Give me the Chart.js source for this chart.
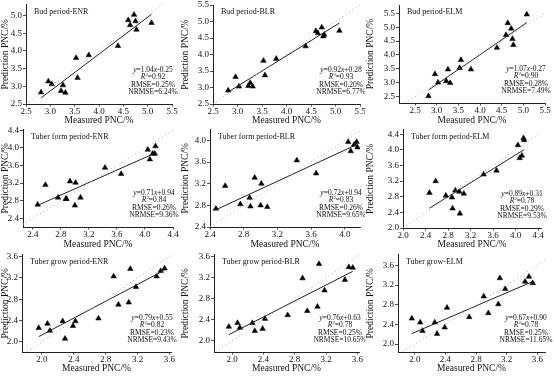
<!DOCTYPE html>
<html>
<head>
<meta charset="utf-8">
<script src="https://cdn.jsdelivr.net/npm/chart.js@4.4.1/dist/chart.umd.min.js"></script>
<style>
  body { margin: 0; background: #fff; }
  #wrap { position: relative; width: 554px; height: 376px; overflow: hidden; }
  #wrap canvas { position: absolute; }
</style>
</head>
<body>
<div id="wrap"></div>
<script>
// measured PNC (%) per growth stage
const budMeasured  = [2.81, 2.96, 3.03, 3.22, 3.26, 3.31, 3.53, 3.56, 3.79, 4.39, 4.60, 4.64, 4.72, 4.75, 4.77, 5.08];
const formMeasured = [2.47, 2.58, 2.76, 2.87, 2.88, 2.93, 3.00, 3.01, 3.08, 3.43, 3.66, 4.04, 4.07, 4.11, 4.14, 4.15];
const growMeasured = [1.96, 2.07, 2.10, 2.26, 2.29, 2.39, 2.42, 2.71, 2.90, 2.96, 3.09, 3.11, 3.18, 3.44, 3.49, 3.54];

// predicted PNC (%) per model
const budENR  = [2.83, 3.14, 3.06, 2.87, 3.03, 2.82, 3.80, 3.24, 3.88, 4.14, 4.87, 4.73, 5.02, 4.84, 4.60, 4.79];
const budBLR  = [2.91, 3.32, 3.03, 3.05, 3.14, 3.03, 3.81, 3.37, 3.87, 4.25, 4.71, 4.65, 4.82, 4.55, 4.60, 4.72];
const budELM  = [2.52, 3.31, 3.01, 3.06, 3.48, 2.99, 3.53, 3.82, 3.48, 4.26, 4.72, 5.15, 4.95, 4.58, 4.36, 5.46];
const formENR = [2.71, 3.16, 2.87, 2.84, 2.84, 3.24, 2.69, 3.21, 2.87, 3.55, 3.41, 3.96, 3.74, 3.87, 3.87, 4.04];
const formBLR = [2.74, 3.16, 2.82, 2.94, 2.78, 3.31, 2.80, 3.20, 2.77, 3.63, 3.39, 3.97, 3.80, 3.92, 3.97, 3.87];
const formELM = [2.90, 3.20, 2.83, 2.78, 2.50, 2.96, 2.93, 2.37, 2.88, 3.37, 3.47, 4.12, 3.79, 3.85, 4.30, 4.25];
const growENR = [2.26, 2.34, 2.21, 2.39, 2.06, 2.30, 2.39, 2.44, 3.23, 2.70, 2.74, 3.37, 3.03, 3.23, 3.33, 3.38];
const growBLR = [2.27, 2.34, 2.25, 2.34, 2.19, 2.23, 2.42, 2.49, 3.19, 2.57, 2.65, 3.46, 2.96, 3.16, 3.40, 3.39];
const growELM = [2.52, 2.44, 2.27, 2.44, 2.21, 2.34, 2.74, 2.55, 2.97, 2.63, 2.81, 3.34, 3.12, 3.27, 3.37, 3.24];

const panelTitles = ['Bud period-ENR', 'Bud period-BLR', 'Bud period-ELM',
  'Tuber form period-ENR', 'Tuber form period-BLR', 'Tuber form period-ELM',
  'Tuber grow period-ENR', 'Tuber grow period-BLR', 'Tuber grow-ELM'];
const slopes     = [1.04, 0.92, 1.07, 0.71, 0.72, 0.89, 0.79, 0.76, 0.67];
const intercepts = [-0.25, 0.28, -0.27, 0.94, 0.94, 0.31, 0.55, 0.63, 0.90];
const r2Labels    = ['0.92', '0.93', '0.90', '0.84', '0.83', '0.78', '0.82', '0.78', '0.78'];
const rmseLabels  = ['0.25%', '0.20%', '0.28%', '0.26%', '0.26%', '0.29%', '0.23%', '0.25%', '0.25%'];
const nrmseLabels = ['6.24%', '6.77%', '7.49%', '9.36%', '9.65%', '9.53%', '9.43%', '10.65%', '11.65%'];

const xSets = [budMeasured, budMeasured, budMeasured, formMeasured, formMeasured, formMeasured, growMeasured, growMeasured, growMeasured];
const ySets = [budENR, budBLR, budELM, formENR, formBLR, formELM, growENR, growBLR, growELM];

// placement of each panel and its axis ranges
const panels = [
  {x:0,   y:0,   w:180, h:128, L:26, R:8,  T:4, B:24, xr:[2.5, 5.5, 0.5],  yr:[2.5, 5.31, 0.5]},
  {x:180, y:0,   w:185, h:128, L:33, R:5,  T:5, B:24, xr:[2.5, 5.5, 0.5],  yr:[2.5, 5.5, 0.5]},
  {x:365, y:0,   w:189, h:128, L:34, R:9,  T:5, B:25, xr:[2.13, 5.5, 0.5], yr:[2.27, 5.8, 0.5]},
  {x:0,   y:125, w:180, h:127, L:23, R:7,  T:3, B:25, xr:[2.26, 4.4, 0.4], yr:[2.2, 4.42, 0.4]},
  {x:180, y:125, w:185, h:127, L:30, R:5,  T:3, B:25, xr:[2.4, 4.18, 0.4], yr:[2.4, 4.2, 0.4]},
  {x:365, y:125, w:189, h:127, L:38, R:13, T:3, B:24, xr:[2.0, 4.45, 0.4], yr:[2.0, 4.52, 0.4]},
  {x:0,   y:250, w:180, h:126, L:22, R:9,  T:3, B:24, xr:[1.75, 3.62, 0.4], yr:[1.81, 3.64, 0.4]},
  {x:180, y:250, w:185, h:126, L:34, R:6,  T:3, B:24, xr:[1.77, 3.62, 0.4], yr:[1.79, 3.64, 0.4]},
  {x:365, y:250, w:189, h:126, L:33, R:9,  T:3, B:24, xr:[1.78, 3.7, 0.4],  yr:[1.84, 3.82, 0.4]}
];

const FONT = "'Liberation Serif', 'Times New Roman', serif";

function drawRich(ctx, segs, cx, cy, size) {
  let total = 0;
  segs.forEach(s => {
    ctx.font = (s.it ? 'italic ' : '') + (s.sup ? size * 0.65 : size) + 'px ' + FONT;
    s.w = ctx.measureText(s.t).width;
    total += s.w;
  });
  let x = cx - total / 2;
  segs.forEach(s => {
    ctx.font = (s.it ? 'italic ' : '') + (s.sup ? size * 0.65 : size) + 'px ' + FONT;
    ctx.fillText(s.t, x, s.sup ? cy - size * 0.3 : cy);
    x += s.w;
  });
}

function textPlugin(i) {
  return {
    id: 'panelText' + i,
    afterDraw(chart) {
      const ctx = chart.ctx, ca = chart.chartArea;
      ctx.save();
      ctx.fillStyle = '#111';
      ctx.textBaseline = 'middle';
      ctx.textAlign = 'left';
      ctx.font = '8px ' + FONT;
      ctx.fillText(panelTitles[i], ca.left + 8, ca.top + 7);

      const a = slopes[i], b = intercepts[i];
      const lines = [
        [{t:'y', it:true}, {t:'=' + a.toFixed(2)}, {t:'x', it:true}, {t:(b < 0 ? '-' : '+') + Math.abs(b).toFixed(2)}],
        [{t:'R', it:true}, {t:'2', sup:true}, {t:'=' + r2Labels[i]}],
        [{t:'RMSE=' + rmseLabels[i]}],
        [{t:'NRMSE=' + nrmseLabels[i]}]
      ];
      const cx = ca.right - 19;
      lines.forEach((segs, k) => {
        drawRich(ctx, segs, cx, ca.bottom - 12 - (3 - k) * 7.4, 7.5);
      });
      ctx.restore();
    }
  };
}

const wrap = document.getElementById('wrap');

panels.forEach((p, i) => {
  const cv = document.createElement('canvas');
  cv.width = p.w; cv.height = p.h;
  cv.style.left = p.x + 'px'; cv.style.top = p.y + 'px';
  cv.style.width = p.w + 'px'; cv.style.height = p.h + 'px';
  wrap.appendChild(cv);

  const xs = xSets[i], ys = ySets[i];
  const pts = xs.map((v, k) => ({x: v, y: ys[k]}));
  const lo = Math.max(p.xr[0], p.yr[0]);
  const hi = Math.min(p.xr[1], p.yr[1]);
  const x0 = Math.min(...xs), x1 = Math.max(...xs);
  const fit = [{x: x0, y: slopes[i] * x0 + intercepts[i]}, {x: x1, y: slopes[i] * x1 + intercepts[i]}];

  const axisCommon = (range, title, horizontal) => ({
    type: 'linear',
    min: range[0], max: range[1],
    ticks: {
      stepSize: range[2], includeBounds: false, autoSkip: false,
      color: '#111', padding: horizontal ? 0 : 1,
      font: {family: FONT, size: 9},
      callback: v => Number(v).toFixed(1)
    },
    grid: {display: true, drawOnChartArea: false, drawTicks: true, tickLength: horizontal ? 2.5 : 3, color: '#222', lineWidth: 0.8},
    border: {display: true, color: '#222', width: 1},
    title: {
      display: true, text: title, color: '#111',
      font: {family: FONT, size: 9.5},
      padding: horizontal ? {top: 0, bottom: 2} : {top: 0, bottom: 0}
    },
    afterFit(scale) {
      if (horizontal) scale.height = p.B; else scale.width = p.L;
      scale.paddingLeft = 0; scale.paddingRight = 0;
      scale.paddingTop = 0; scale.paddingBottom = 0;
    }
  });

  new Chart(cv, {
    type: 'scatter',
    data: {
      datasets: [
        {type: 'line', data: [{x: lo, y: lo}, {x: hi, y: hi}], borderColor: '#a8a8a8', borderWidth: 1,
         borderDash: [1, 3], pointRadius: 0, fill: false},
        {type: 'line', data: fit, borderColor: '#222', borderWidth: 1, pointRadius: 0, fill: false},
        {data: pts, pointStyle: 'triangle', pointRadius: 3.2, backgroundColor: '#000', borderColor: '#000', borderWidth: 0.5}
      ]
    },
    options: {
      responsive: false,
      animation: false,
      layout: {padding: {left: 0, right: p.R, top: p.T, bottom: 0}},
      plugins: {legend: {display: false}, tooltip: {enabled: false}},
      scales: {
        x: axisCommon(p.xr, 'Measured PNC/%', true),
        y: axisCommon(p.yr, 'Prediction PNC/%', false)
      }
    },
    plugins: [textPlugin(i)]
  });
});
</script>
</body>
</html>
